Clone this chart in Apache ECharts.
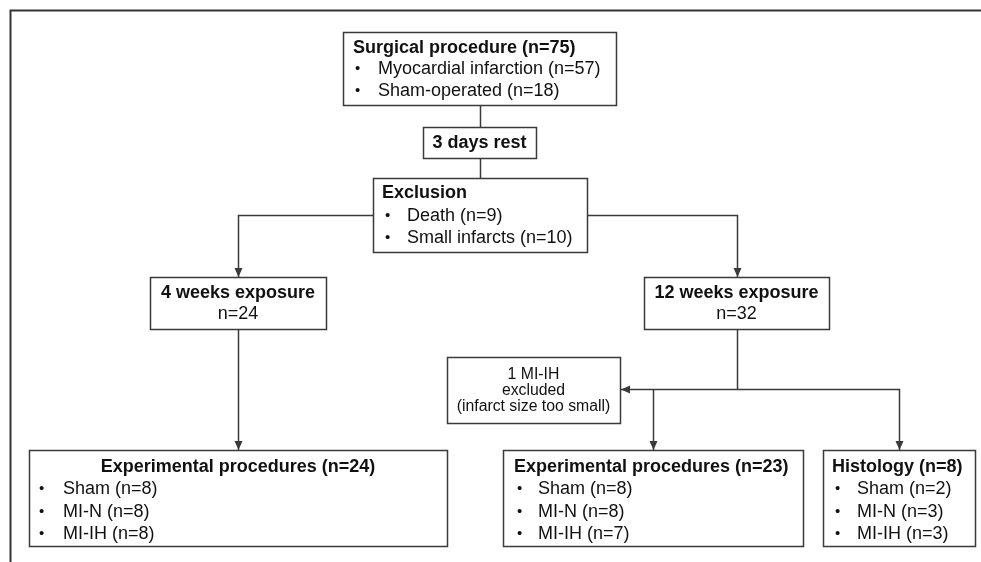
<!DOCTYPE html>
<html><head><meta charset="utf-8">
<script src="https://cdn.jsdelivr.net/npm/echarts@6/dist/echarts.min.js"></script>
<style>html,body{margin:0;padding:0;background:#fff}#c{width:981px;height:562px}</style>
</head><body><div id="c"></div>
<script>
// ---- content (texts / counts) ----
const surgicalTitle = 'Surgical procedure (n=75)';
const surgicalItems = ['Myocardial infarction (n=57)', 'Sham-operated (n=18)'];
const restText = '3 days rest';
const exclusionTitle = 'Exclusion';
const exclusionItems = ['Death (n=9)', 'Small infarcts (n=10)'];
const week4Lines = ['4 weeks exposure', 'n=24'];
const week12Lines = ['12 weeks exposure', 'n=32'];
const excludedLines = ['1 MI-IH', 'excluded', '(infarct size too small)'];
const exp24Title = 'Experimental procedures (n=24)';
const exp24Items = ['Sham (n=8)', 'MI-N (n=8)', 'MI-IH (n=8)'];
const exp23Title = 'Experimental procedures (n=23)';
const exp23Items = ['Sham (n=8)', 'MI-N (n=8)', 'MI-IH (n=7)'];
const histTitle = 'Histology (n=8)';
const histItems = ['Sham (n=2)', 'MI-N (n=3)', 'MI-IH (n=3)'];

// ---- layout / style ----
const FONT = "'Liberation Sans', Arial, sans-serif";
const BASE = 18;
const STROKE = '#3a3a3a';
const TXT = '#111';
const layout = {
  surgical: {x: 343, y: 32, w: 273, h: 73, titleX: 353, bulletX: 355, textX: 378, rows: [48, 69, 91]},
  rest: {x: 423, y: 127, w: 113, h: 31, cy: 143},
  exclusion: {x: 373, y: 178, w: 214, h: 74, titleX: 382, bulletX: 385, textX: 407, rows: [193, 216, 238]},
  week4: {x: 150, y: 277, w: 176, h: 52, rows: [293, 314]},
  week12: {x: 644, y: 277, w: 185, h: 52, rows: [293, 314]},
  excluded: {x: 447, y: 357, w: 173, h: 66, rows: [375, 391, 407]},
  exp24: {x: 29, y: 450, w: 418, h: 96, titleCenter: true, bulletX: 39, textX: 63, rows: [467, 489, 512, 534]},
  exp23: {x: 503, y: 450, w: 300, h: 96, titleX: 514, bulletX: 517, textX: 538, rows: [467, 489, 512, 534]},
  hist: {x: 823, y: 450, w: 152, h: 96, titleX: 832, bulletX: 835, textX: 857, rows: [467, 489, 512, 534]}
};

const els = [];
function rect(b) {
  els.push({type: 'rect', z: 2, shape: {x: b.x + 0.5, y: b.y + 0.5, width: b.w, height: b.h},
    style: {fill: '#fff', stroke: STROKE, lineWidth: 1.5}});
}
function text(x, y, str, opt) {
  opt = opt || {};
  const a = opt.align || 'left';
  els.push({type: 'text', z: 3, x: x, y: y, style: {
    text: str, fill: TXT, fontFamily: FONT, fontSize: opt.size || BASE,
    fontWeight: opt.bold ? 'bold' : 'normal',
    textAlign: a, align: a, textVerticalAlign: 'middle', verticalAlign: 'middle'}});
}
function line(pts) {
  els.push({type: 'polyline', z: 1, shape: {points: pts}, style: {stroke: STROKE, lineWidth: 1.5, fill: null}});
}
function arrowDown(x, y) {
  els.push({type: 'polygon', z: 4, shape: {points: [[x - 4, y - 9], [x + 4, y - 9], [x, y]]}, style: {fill: STROKE}});
}
function arrowLeft(x, y) {
  els.push({type: 'polygon', z: 4, shape: {points: [[x + 9, y - 4], [x + 9, y + 4], [x, y]]}, style: {fill: STROKE}});
}
function bulletBox(b, title, items) {
  rect(b);
  if (b.titleCenter) text(b.x + b.w / 2, b.rows[0], title, {bold: true, align: 'center'});
  else text(b.titleX, b.rows[0], title, {bold: true});
  items.forEach(function (it, i) {
    text(b.bulletX, b.rows[i + 1], '\u2022', {size: 15});
    text(b.textX, b.rows[i + 1], it);
  });
}
function centerBox(b, lines, boldFirst, size) {
  rect(b);
  lines.forEach(function (l, i) {
    text(b.x + b.w / 2, b.rows[i], l, {bold: boldFirst && i === 0, align: 'center', size: size});
  });
}

// outer frame
els.push({type: 'polyline', z: 1, shape: {points: [[10.5, 562], [10.5, 10.5], [981, 10.5]]},
  style: {stroke: '#333', lineWidth: 2, fill: null}});

const L = layout;
const midX = 480.5;
// connectors
line([[midX, L.surgical.y + L.surgical.h], [midX, L.rest.y]]);
line([[midX, L.rest.y + L.rest.h], [midX, L.exclusion.y]]);
const exY = 215.5;
const x4 = 238.5, x12 = 737.5;
line([[L.exclusion.x, exY], [x4, exY], [x4, L.week4.y]]);
arrowDown(x4, L.week4.y);
line([[L.exclusion.x + L.exclusion.w, exY], [x12, exY], [x12, L.week12.y]]);
arrowDown(x12, L.week12.y);
line([[x4, L.week4.y + L.week4.h], [x4, L.exp24.y]]);
arrowDown(x4, L.exp24.y);
const brY = 389.5, x23 = 653.5, xH = 899.5;
line([[x12, L.week12.y + L.week12.h], [x12, brY]]);
line([[L.excluded.x + L.excluded.w, brY], [xH, brY], [xH, L.hist.y]]);
arrowLeft(L.excluded.x + L.excluded.w + 1, brY);
arrowDown(xH, L.hist.y);
line([[x23, brY], [x23, L.exp23.y]]);
arrowDown(x23, L.exp23.y);

// boxes
bulletBox(L.surgical, surgicalTitle, surgicalItems);
rect(L.rest); text(L.rest.x + L.rest.w / 2, L.rest.cy, restText, {bold: true, align: 'center'});
bulletBox(L.exclusion, exclusionTitle, exclusionItems);
centerBox(L.week4, week4Lines, true);
centerBox(L.week12, week12Lines, true);
centerBox(L.excluded, excludedLines, false, 15.8);
bulletBox(L.exp24, exp24Title, exp24Items);
bulletBox(L.exp23, exp23Title, exp23Items);
bulletBox(L.hist, histTitle, histItems);

const chart = echarts.init(document.getElementById('c'), null, {renderer: 'canvas'});
chart.setOption({backgroundColor: '#fff', animation: false, graphic: {elements: els}});
</script>
</body></html>
